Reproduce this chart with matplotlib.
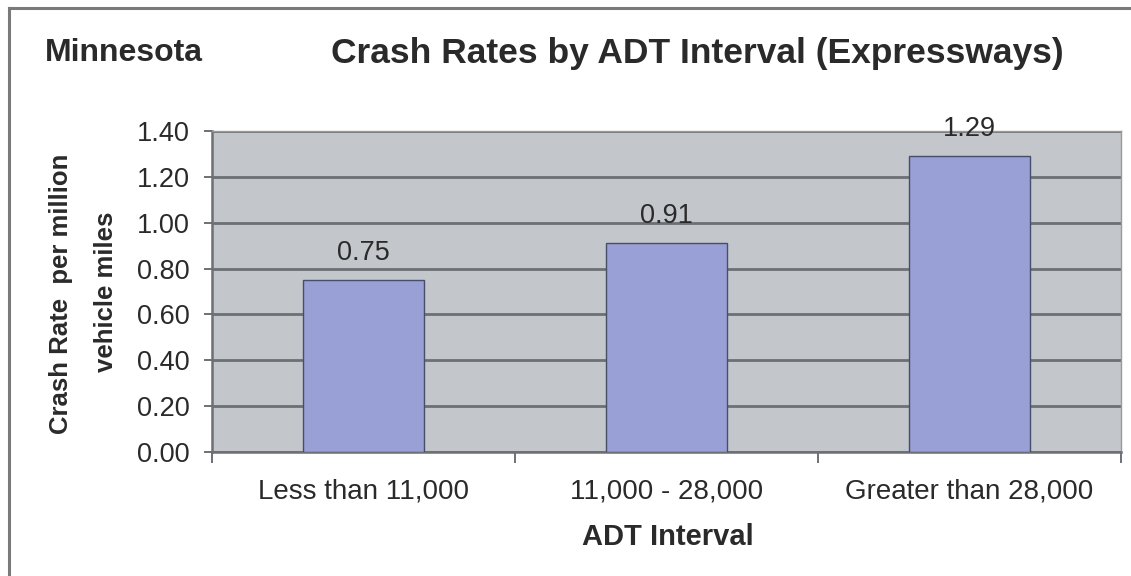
import matplotlib
matplotlib.use("Agg")
import matplotlib.pyplot as plt
from matplotlib.lines import Line2D
import numpy as np

categories = ["Less than 11,000", "11,000 - 28,000", "Greater than 28,000"]
values = [0.75, 0.91, 1.29]
value_labels = ["0.75", "0.91", "1.29"]
yticks = [0.0, 0.2, 0.4, 0.6, 0.8, 1.0, 1.2, 1.4]

plt.rcParams['font.family'] = ['Liberation Sans', 'DejaVu Sans']
TXT = '#2a2a2a'

W, H = 1131, 576
fig = plt.figure(figsize=(W / 100, H / 100), dpi=100)
fig.patch.set_facecolor('white')

ax = fig.add_axes([212 / W, 1 - 452 / H, (1121 - 212) / W, (452 - 131) / H])
ax.set_facecolor('#c3c6ca')

x = np.arange(len(categories))
ax.bar(x, values, width=0.4, color='#99a0d6', edgecolor='#474e6a', linewidth=1.0, zorder=3)

ax.set_xlim(-0.5, len(categories) - 0.5)
ax.set_ylim(0, 1.4)
ax.set_yticks(yticks)
ax.set_yticklabels([f"{v:.2f}" for v in yticks], fontsize=19.5, color=TXT)
ax.yaxis.grid(True, color='#6c7074', linewidth=2.0, zorder=1)
ax.set_axisbelow(True)

# category boundary ticks
ax.set_xticks(np.arange(-0.5, len(categories), 1.0))
ax.set_xticklabels([])
ax.set_xticks(x, minor=True)
ax.set_xticklabels(categories, minor=True, fontsize=20, color=TXT)
ax.tick_params(axis='x', which='major', length=8, width=1.4, color='#6c7074', direction='out')
ax.tick_params(axis='x', which='minor', length=0, pad=19)
ax.tick_params(axis='y', length=6, width=1.4, color='#6c7074', pad=10)

for side in ['top', 'right']:
    ax.spines[side].set_color('#9a9a9a')
    ax.spines[side].set_linewidth(1.0)
for side in ['left', 'bottom']:
    ax.spines[side].set_color('#6c7074')
    ax.spines[side].set_linewidth(1.8)

for xi, v, lab in zip(x, values, value_labels):
    ax.annotate(lab, (xi, v), xytext=(0, 10), textcoords='offset points',
                ha='center', va='bottom', fontsize=19.5, color=TXT)

fig.text(668 / W, 1 - 537 / H, "ADT Interval", ha='center', va='center',
         fontsize=21, fontweight='bold', color=TXT)

fig.text(61 / W, 1 - 294 / H, "Crash Rate  per million", rotation=90, ha='center', va='center',
         fontsize=18.5, fontweight='bold', color=TXT)
fig.text(106 / W, 1 - 292 / H, "vehicle miles", rotation=90, ha='center', va='center',
         fontsize=18.5, fontweight='bold', color=TXT)

fig.text(45 / W, 1 - 53 / H, "Minnesota", ha='left', va='center', fontsize=23,
         fontweight='bold', color=TXT)
fig.text(697 / W, 1 - 53 / H, "Crash Rates by ADT Interval (Expressways)", ha='center', va='center',
         fontsize=25.5, fontweight='bold', color=TXT)

# outer frame (left and top edges visible)
fig.add_artist(Line2D([8.5 / W, 8.5 / W], [0, 1 - 8 / H], transform=fig.transFigure,
                      color='#7a7a7a', linewidth=2.2))
fig.add_artist(Line2D([8.5 / W, 1], [1 - 8 / H, 1 - 8 / H], transform=fig.transFigure,
                      color='#7a7a7a', linewidth=2.2))

fig.savefig("out.png", dpi=100)
